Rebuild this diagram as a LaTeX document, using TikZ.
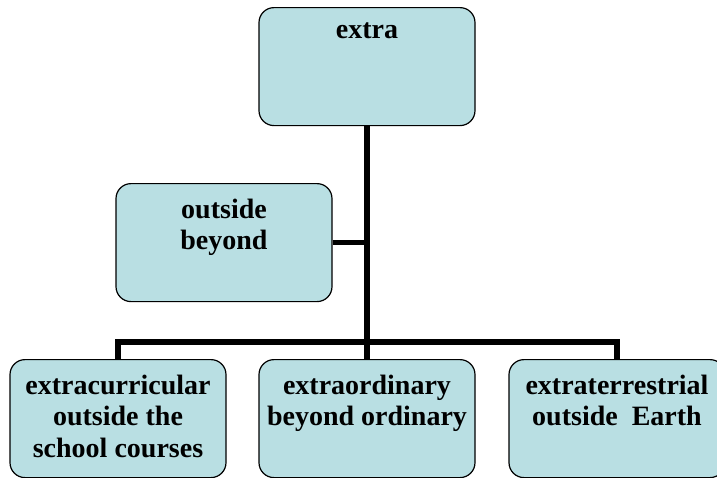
\documentclass[tikz,border=0pt]{standalone}
\usepackage{fontspec}
\setmainfont{Liberation Serif}
\usepackage{tikz}
\usetikzlibrary{positioning,calc}
\definecolor{boxblue}{RGB}{185,223,227}
\newcommand{\boxtext}[1]{\parbox[t][88pt][t]{212pt}{\centering #1}}

\begin{document}
\begin{tikzpicture}[x=1pt,y=-1pt,
    wordbox/.style={draw, line width=1.2pt, fill=boxblue, rounded corners=15pt,
        anchor=north, inner xsep=2pt, inner ysep=15pt,
        font=\fontsize{28}{31.5}\selectfont\bfseries},
    conn/.style={line width=5.5pt}]
        \useasboundingbox (0,0) rectangle (717,477);
        % boxes
        \node[wordbox] (extra) at (367,7) {\boxtext{extra}};
        \node[wordbox] (beyond) at (224,183) {\boxtext{outside\\beyond}};
        \node[wordbox] (curr) at (118,359) {\boxtext{extracurricular\\outside the\\school courses}};
        \node[wordbox] (ordin) at (367,359) {\boxtext{extraordinary\\beyond ordinary}};
        \node[wordbox] (terr) at (617,359) {\boxtext{extraterrestrial\\outside\ \ Earth}};
        % connectors
        \coordinate (bus) at (367,342);
        \draw[conn] (extra.south) -- (ordin.north);
        \draw[conn] (curr.north) |- (bus) -| (terr.north);
        \draw[conn] (beyond.east) -- (beyond.east -| extra.south);
    \end{tikzpicture}
\end{document}
